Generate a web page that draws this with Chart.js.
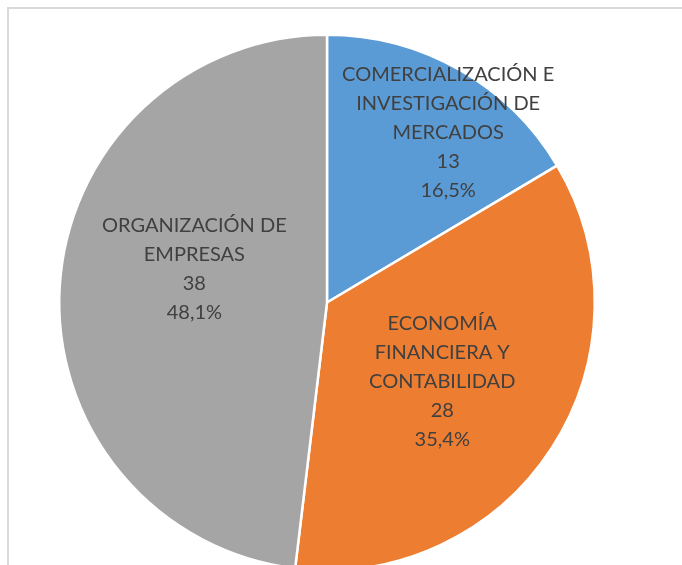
<!DOCTYPE html>
<html>
<head>
<meta charset="utf-8">
<script src="https://cdn.jsdelivr.net/npm/chart.js@4.4.1/dist/chart.umd.min.js"></script>
<style>
    html, body { margin: 0; padding: 0; background: #fff; overflow: hidden; }
    #wrap { position: relative; width: 682px; height: 565px; }
    #frame {
        position: absolute; left: 7px; top: 7px; width: 700px; height: 600px;
        border-left: 2px solid #d9d9d9; border-top: 2px solid #d9d9d9;
    }
    #chart-box { position: absolute; left: 0; top: 0; width: 682px; height: 600px; }
</style>
</head>
<body>
<div id="wrap">
    <div id="frame"></div>
    <div id="chart-box"><canvas id="pie"></canvas></div>
</div>
<script>
// 区分名（ラベルの改行位置込み）
const categories = [
    ['COMERCIALIZACIÓN E', 'INVESTIGACIÓN DE', 'MERCADOS'],
    ['ECONOMÍA', 'FINANCIERA Y', 'CONTABILIDAD'],
    ['ORGANIZACIÓN DE', 'EMPRESAS']
];
const values = [13, 28, 38];
const percentLabels = ['16,5%', '35,4%', '48,1%'];
const sliceColors = ['#5b9bd5', '#ed7d31', '#a5a5a5'];

// ラベル位置：扇形の中心からのずれ (px)
const labelOffsets = [
    { dx: 55, dy: -54 },
    { dx: 3, dy: 6 },
    { dx: 1, dy: -25 }
];

// データラベルを描くプラグイン
const pieLabels = {
    id: 'pieLabels',
    afterDatasetsDraw(chart) {
        const ctx = chart.ctx;
        const meta = chart.getDatasetMeta(0);
        ctx.save();
        ctx.fillStyle = '#404040';
        ctx.font = '20px Lato, "Open Sans", sans-serif';
        ctx.textAlign = 'center';
        ctx.textBaseline = 'middle';
        const lineH = 29;
        meta.data.forEach((arc, i) => {
            const pos = arc.tooltipPosition();
            const lines = categories[i].concat([String(values[i]), percentLabels[i]]);
            const cx = pos.x + labelOffsets[i].dx;
            const cy = pos.y + labelOffsets[i].dy;
            const top = cy - (lines.length - 1) * lineH / 2;
            lines.forEach((t, k) => ctx.fillText(t, cx, top + k * lineH));
        });
        ctx.restore();
    }
};

const ctx = document.getElementById('pie').getContext('2d');
const myChart = new Chart(ctx, {
    type: 'pie',
    data: {
        labels: categories.map(c => c.join(' ')),
        datasets: [{
            data: values,
            backgroundColor: sliceColors,
            borderColor: '#ffffff',
            borderWidth: 2.5
        }]
    },
    options: {
        responsive: true,
        maintainAspectRatio: false,
        animation: false,
        layout: { padding: { left: 58, right: 86, top: 33, bottom: 28 } },
        plugins: {
            legend: { display: false },
            tooltip: { enabled: false }
        }
    },
    plugins: [pieLabels]
});
</script>
</body>
</html>
